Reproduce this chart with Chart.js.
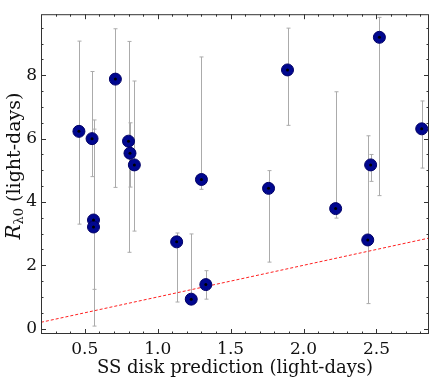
<!DOCTYPE html>
<html>
<head>
<meta charset="utf-8">
<script src="https://cdn.jsdelivr.net/npm/chart.js@4/dist/chart.umd.min.js"></script>
<style>
  body { margin: 0; background: #fff; }
  canvas { display: block; }
</style>
</head>
<body>
<canvas id="myChart" width="436" height="382"></canvas>
<script>
// SS disk prediction (x) vs measured R_lambda0 (y), with lower / upper error bounds
const xs    = [0.46, 0.55, 0.56, 0.56, 0.71, 0.80, 0.81, 0.84, 1.30, 1.13, 1.23, 1.33, 1.76, 1.89, 2.22, 2.44, 2.46, 2.52, 2.81];
const ys    = [6.23, 6.00, 3.43, 3.21, 7.88, 5.92, 5.54, 5.17, 4.71, 2.74, 0.93, 1.39, 4.43, 8.17, 3.79, 2.80, 5.17, 9.20, 6.31];
const yLow  = [3.30, 4.80, 1.24, 0.08, 4.46, 2.41, 4.47, 3.08, 4.40, 0.84, 0.85, 0.93, 2.10, 6.42, 3.49, 0.79, 4.65, 4.20, 5.07];
const yHigh = [9.08, 8.12, 6.59, 6.30, 9.47, 9.07, 6.50, 7.82, 8.58, 3.02, 2.99, 1.83, 4.99, 9.49, 7.48, 6.09, 5.50, 9.83, 7.19];

// one-to-one reference line
const lineX = [0.2, 2.86];
const xTicks = [0.5, 1.0, 1.5, 2.0, 2.5];
const yTicks = [0, 2, 4, 6, 8];

const points = xs.map((x, i) => ({x: x, y: ys[i]}));
const serif = "'DejaVu Serif', serif";

const errorBars = {
    id: 'errorBars',
    beforeDatasetsDraw(chart) {
        const c = chart.ctx, sx = chart.scales.x, sy = chart.scales.y;
        c.save();
        c.strokeStyle = '#ababab';
        c.lineWidth = 1;
        xs.forEach((x, i) => {
            const px = Math.round(sx.getPixelForValue(x)) + 0.5;
            const lo = sy.getPixelForValue(yLow[i]);
            const hi = sy.getPixelForValue(yHigh[i]);
            c.beginPath();
            c.moveTo(px, lo); c.lineTo(px, hi);
            c.moveTo(px - 2, lo); c.lineTo(px + 2, lo);
            c.moveTo(px - 2, hi); c.lineTo(px + 2, hi);
            c.stroke();
        });
        c.restore();
    }
};

const frameTicks = {
    id: 'frameTicks',
    afterDraw(chart) {
        const c = chart.ctx, sx = chart.scales.x, sy = chart.scales.y;
        const a = chart.chartArea;
        c.save();
        c.strokeStyle = '#333';
        c.lineWidth = 1;
        c.strokeRect(a.left + 0.5, a.top + 0.5, a.right - a.left - 1, a.bottom - a.top - 1);
        c.beginPath();
        for (let v = 0.3; v < sx.max; v += 0.1) {
            const px = Math.round(sx.getPixelForValue(v)) + 0.5;
            const major = xTicks.some(t => Math.abs(t - v) < 1e-6);
            const len = major ? 5 : 2.5;
            c.moveTo(px, a.bottom); c.lineTo(px, a.bottom - len);
            c.moveTo(px, a.top); c.lineTo(px, a.top + len);
        }
        for (let v = 0; v < sy.max; v += 0.5) {
            const py = Math.round(sy.getPixelForValue(v)) + 0.5;
            const major = yTicks.indexOf(v) >= 0;
            const len = major ? 5 : 2.5;
            c.moveTo(a.left, py); c.lineTo(a.left + len, py);
            c.moveTo(a.right, py); c.lineTo(a.right - len, py);
        }
        c.stroke();

        // y axis title: italic R with subscript lambda0
        c.fillStyle = '#111';
        c.translate(20, 166);
        c.rotate(-Math.PI / 2);
        c.textBaseline = 'alphabetic';
        const fR = 'italic 20px ' + serif, fS = '13px ' + serif, fT = '19px ' + serif;
        c.font = fR; const wR = c.measureText('R').width;
        c.font = fS; const wS = c.measureText('λ0').width;
        c.font = fT; const wT = c.measureText(' (light-days)').width;
        let x0 = -(wR + wS + wT) / 2;
        c.font = fR; c.fillText('R', x0, 0); x0 += wR;
        c.font = fS; c.fillText('λ0', x0, 3); x0 += wS;
        c.font = fT; c.fillText(' (light-days)', x0, 0);
        c.restore();
    }
};

new Chart(document.getElementById('myChart'), {
    type: 'scatter',
    data: {
        datasets: [{
            type: 'line',
            data: lineX.map(v => ({x: v, y: v})),
            borderColor: '#ff2020',
            borderWidth: 1,
            borderDash: [3, 2],
            pointRadius: 0,
            order: 3
        }, {
            data: points,
            backgroundColor: '#00078f',
            borderColor: '#000066',
            borderWidth: 1,
            pointRadius: 6,
            order: 2
        }, {
            data: points,
            backgroundColor: '#000',
            borderWidth: 0,
            pointRadius: 1.5,
            order: 1
        }]
    },
    options: {
        responsive: false,
        animation: false,
        layout: { padding: { top: 5, right: 5, left: 0, bottom: 0 } },
        plugins: { legend: { display: false }, tooltip: { enabled: false } },
        scales: {
            x: {
                type: 'linear',
                min: 0.2,
                max: 2.86,
                afterFit: s => { s.height = 48; },
                afterBuildTicks: s => { s.ticks = xTicks.map(v => ({value: v})); },
                grid: { display: false, drawTicks: false },
                border: { display: false },
                ticks: {
                    font: { family: serif, size: 17 },
                    color: '#111',
                    padding: 5,
                    maxRotation: 0,
                    callback: v => v.toFixed(1)
                },
                title: {
                    display: true,
                    text: 'SS disk prediction (light-days)',
                    font: { family: serif, size: 18 },
                    color: '#111',
                    padding: { top: 0, bottom: 3 }
                }
            },
            y: {
                min: -0.17,
                max: 9.93,
                afterFit: s => { s.width = 41; },
                afterBuildTicks: s => { s.ticks = yTicks.map(v => ({value: v})); },
                grid: { display: false, drawTicks: false },
                border: { display: false },
                ticks: {
                    font: { family: serif, size: 17 },
                    color: '#111',
                    padding: 4
                }
            }
        }
    },
    plugins: [errorBars, frameTicks]
});
</script>
</body>
</html>
